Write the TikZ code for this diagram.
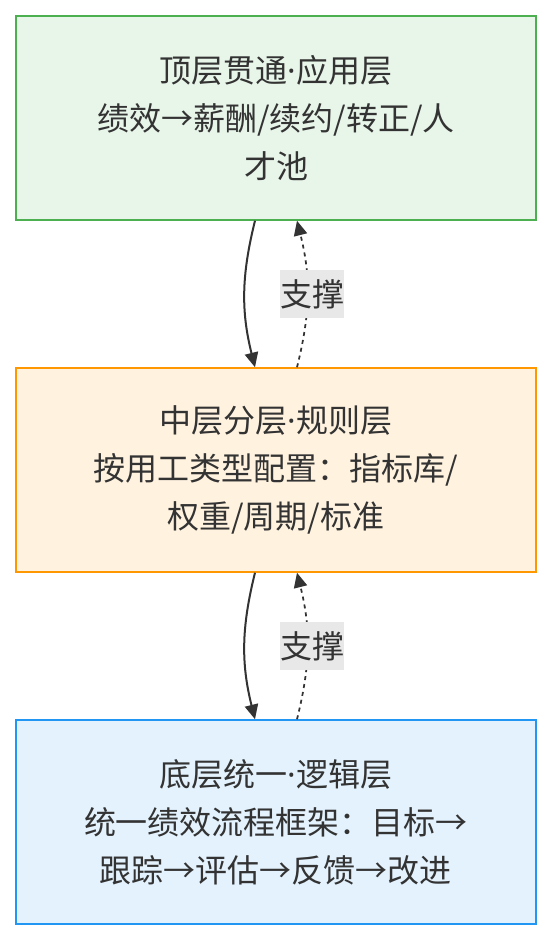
\documentclass[tikz,border=0pt]{standalone}
\usepackage{fontspec}
\usepackage{tikz}
\usetikzlibrary{arrows.meta, calc}
\newfontfamily\cjk{Noto Sans CJK SC}
\newfontfamily\latinsans{Noto Sans}
\newcommand{\mdot}{{\latinsans ·}}
\definecolor{txtgray}{HTML}{333333}
\definecolor{lblgray}{HTML}{E8E8E8}
\definecolor{topfill}{HTML}{E8F5E9}
\definecolor{topline}{HTML}{4CAF50}
\definecolor{midfill}{HTML}{FFF3E0}
\definecolor{midline}{HTML}{FF9800}
\definecolor{botfill}{HTML}{E3F2FD}
\definecolor{botline}{HTML}{2196F3}
\tikzset{>={Triangle[length=11pt,width=10pt]}}
\tikzset{
    layerbox/.style={draw, line width=1.1pt, minimum width=390pt, minimum height=153pt,
        align=center, text=txtgray, font=\cjk\fontsize{24pt}{36pt}\selectfont},
    supportlbl/.style={fill=lblgray, text=txtgray, inner xsep=0pt, minimum height=36pt,
        font=\cjk\fontsize{24pt}{36pt}\selectfont},
    uparrow/.style={->, draw=txtgray, line width=1.3pt, dash pattern=on 3pt off 3pt},
    downarrow/.style={->, draw=txtgray, line width=1.5pt}
}

\begin{document}
\begin{tikzpicture}[x=0.75pt, y=-0.75pt]
                \useasboundingbox (0,0) rectangle (552,940);

                \node[layerbox, fill=topfill, draw=topline] (top) at (276, 118)
                    {顶层贯通\mdot 应用层\\绩效→薪酬/续约/转正/人\\才池};
                \node[layerbox, fill=midfill, draw=midline] (mid) at (276, 470)
                    {中层分层\mdot 规则层\\按用工类型配置：指标库/\\权重/周期/标准};
                \node[layerbox, fill=botfill, draw=botline] (bot) at (276, 822)
                    {底层统一\mdot 逻辑层\\统一绩效流程框架：目标→\\跟踪→评估→反馈→改进};

                \draw[downarrow] ([xshift=-15.75pt]top.south) to[bend right=14] ([xshift=-15.75pt]mid.north);
                \draw[uparrow] ([xshift=15.75pt]mid.north) to[bend right=14] ([xshift=15.75pt]top.south);
                \node[supportlbl] (lbl1) at (312, 294) {支撑};

                \draw[downarrow] ([xshift=-15.75pt]mid.south) to[bend right=14] ([xshift=-15.75pt]bot.north);
                \draw[uparrow] ([xshift=15.75pt]bot.north) to[bend right=14] ([xshift=15.75pt]mid.south);
                \node[supportlbl] (lbl2) at (312, 646) {支撑};

\end{tikzpicture}
\end{document}
